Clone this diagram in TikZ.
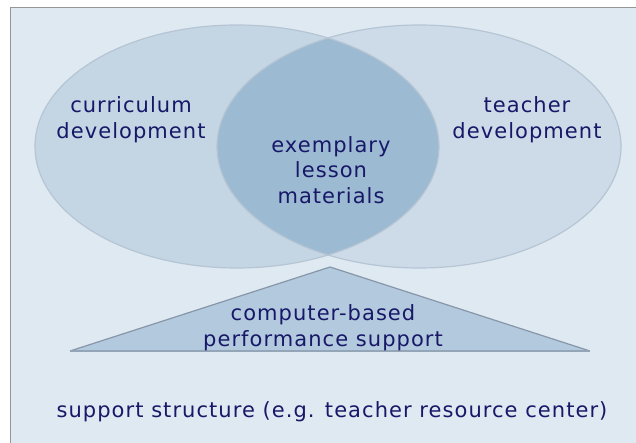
\documentclass[tikz,border=0pt]{standalone}
\usepackage{fontspec}
\setmainfont[LetterSpace=5]{DejaVu Sans}
\usetikzlibrary{shapes.geometric}
\definecolor{bg}{RGB}{223,233,242}
\definecolor{frame}{RGB}{150,150,150}
\definecolor{lfill}{RGB}{196,213,227}
\definecolor{rfill}{RGB}{204,219,231}
\definecolor{lens}{RGB}{156,186,210}
\definecolor{tri}{RGB}{178,201,222}
\definecolor{edge}{RGB}{182,197,212}
\definecolor{triedge}{RGB}{135,150,168}
\definecolor{ink}{RGB}{24,24,104}
\tikzset{
  lbl/.style={align=center, text=ink, inner sep=0pt, font=\fontsize{21}{25.5}\selectfont},
}
\begin{document}
\begin{tikzpicture}[x=1pt,y=-1pt]
\useasboundingbox (0,0) rectangle (636,443);
\fill[white] (0,0) rectangle (636,443);
\fill[bg] (10,8) rectangle (636,443);
\draw[frame, line width=1pt] (10,443) -- (10,8) -- (636,8);
% ellipses
\fill[lfill] (237,146.5) ellipse [x radius=202, y radius=121.5];
\fill[rfill] (419,146.5) ellipse [x radius=202, y radius=121.5];
\begin{scope}
  \clip (237,146.5) ellipse [x radius=202, y radius=121.5];
  \fill[lens] (419,146.5) ellipse [x radius=202, y radius=121.5];
\end{scope}
\draw[edge, line width=1.2pt] (237,146.5) ellipse [x radius=202, y radius=121.5];
\draw[edge, line width=1.2pt] (419,146.5) ellipse [x radius=202, y radius=121.5];
% triangle
\coordinate (apex) at (330,267);
\coordinate (bl) at (70,351);
\coordinate (br) at (590,351);
\fill[tri] (apex) -- (br) -- (bl) -- cycle;
\draw[triedge, line width=1.2pt, line join=round] (bl) -- (apex) -- (br);
\draw[triedge!70!tri, line width=1.5pt] (bl) -- (br);
% labels
\node[lbl] (curr) at (131,119.5) {curriculum\\development};
\node[lbl] (teach) at (527,119.5) {teacher\\development};
\node[lbl] (exem) at (331,170) {exemplary\\lesson\\materials};
\node[lbl] (comp) at (323,327.5) {computer-based\\performance support};
\node[lbl] (supp) at (332,412) {support structure (e.g. teacher resource center)};
\end{tikzpicture}
\end{document}
